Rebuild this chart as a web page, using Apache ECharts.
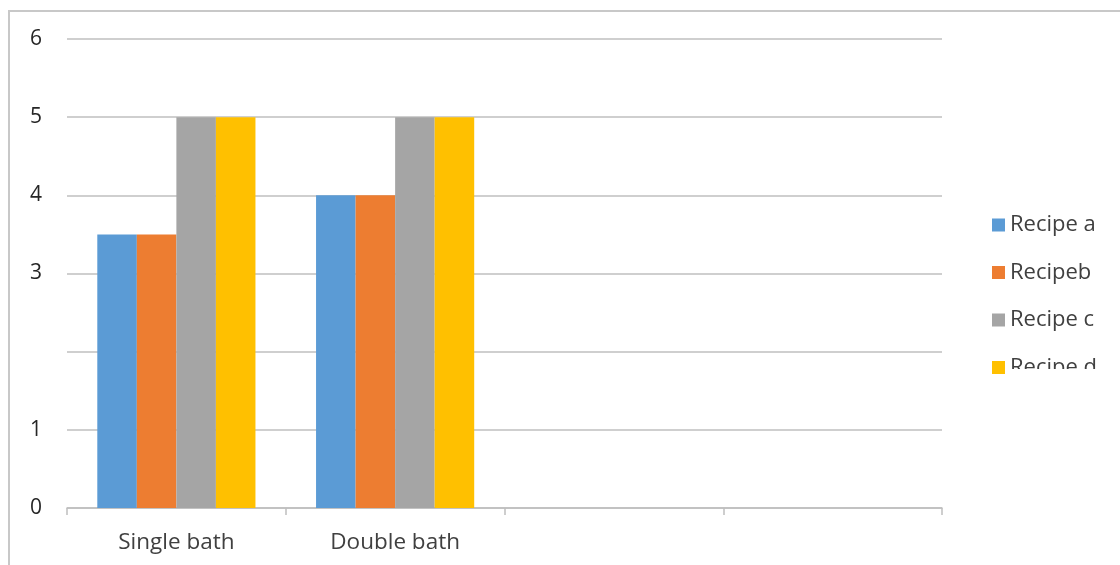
<!DOCTYPE html>
<html><head><meta charset="utf-8">
<script src="https://cdn.jsdelivr.net/npm/echarts@6/dist/echarts.min.js"></script>
<style>html,body{margin:0;padding:0;background:#fff}#c{width:1120px;height:565px}</style>
</head><body><div id="c"></div>
<script>
var categories = ['Single bath', 'Double bath', '', ''];
var seriesNames = ['Recipe a', 'Recipeb', 'Recipe c', 'Recipe d'];
var recipeA = [3.5, 4, null, null];
var recipeB = [3.5, 4, null, null];
var recipeC = [5, 5, null, null];
var recipeD = [5, 5, null, null];
var yTickLabels = ['0', '1', '', '3', '4', '5', '6'];
var colors = ['#5B9BD5', '#ED7D31', '#A5A5A5', '#FFC000'];

var chart = echarts.init(document.getElementById('c'), null, {renderer: 'canvas'});
var font = 'Open Sans';
var values = [recipeA, recipeB, recipeC, recipeD];
chart.setOption({
  animation: false,
  color: colors,
  grid: {left: 67, right: 178, top: 39, bottom: 57, containLabel: false},
  legend: {
    orient: 'vertical', left: 987, top: 209,
    itemWidth: 13, itemHeight: 13, itemGap: 25.5,
    icon: 'rect',
    textStyle: {fontFamily: font, fontSize: 22, color: '#404040', padding: [0, 0, 0, 0]},
    data: seriesNames
  },
  xAxis: {
    type: 'category', data: categories,
    axisLine: {lineStyle: {color: '#BFBFBF', width: 1.5}},
    axisTick: {show: true, alignWithLabel: false, length: 7, lineStyle: {color: '#BFBFBF', width: 1.5}},
    axisLabel: {fontFamily: font, fontSize: 22.5, color: '#404040', margin: 23}
  },
  yAxis: {
    type: 'value', min: 0, max: 6, interval: 1,
    axisLine: {show: false}, axisTick: {show: false},
    splitLine: {lineStyle: {color: '#BFBFBF', width: 1.5}},
    axisLabel: {fontFamily: font, fontSize: 21, color: '#262626', margin: 25,
      formatter: function (v) { return yTickLabels[Math.round(v)]; }}
  },
  series: seriesNames.map(function (n, i) {
    return {name: n, type: 'bar', data: values[i], barGap: '0%', barCategoryGap: '27.7%'};
  }),
  graphic: [
    {type: 'rect', z: 100, shape: {x: 1005, y: 369, width: 115, height: 24}, style: {fill: '#fff'}},
    {type: 'rect', z: 100, silent: true, shape: {x: 9, y: 11, width: 1130, height: 600},
      style: {fill: 'none', stroke: '#C8C8C8', lineWidth: 2}}
  ]
});
</script></body></html>
